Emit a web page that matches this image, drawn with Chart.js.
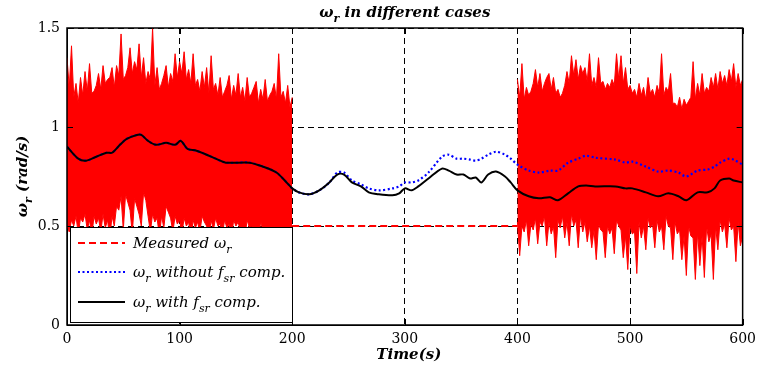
<!DOCTYPE html>
<html>
<head>
<meta charset="utf-8">
<script src="https://cdn.jsdelivr.net/npm/chart.js@4.4.0/dist/chart.umd.min.js"></script>
<style>
html, body { margin: 0; padding: 0; background: #fff; }
canvas { display: block; }
</style>
</head>
<body>
<canvas id="chartWr" width="762" height="374"></canvas>
<script>
// Axis ticks
const timeTicks = [0, 100, 200, 300, 400, 500, 600];
const speedTicks = [0, 0.5, 1, 1.5];

// Measured speed, noisy parts: upper / lower envelope, one value every 2 s
const measuredStep = 2;
const measuredStartA = 0;
const measuredHighA = [1.35, 1.20, 1.41, 1.15, 1.22, 1.12, 1.25, 1.16, 1.28, 1.18, 1.32, 1.17, 1.18, 1.21, 1.27, 1.19,
    1.31, 1.22, 1.24, 1.25, 1.30, 1.20, 1.31, 1.26, 1.47, 1.24, 1.26, 1.30, 1.40, 1.27, 1.33, 1.29, 1.42, 1.25,
    1.35, 1.22, 1.28, 1.24, 1.50, 1.21, 1.30, 1.19, 1.22, 1.26, 1.31, 1.20, 1.27, 1.23, 1.37, 1.25, 1.33, 1.27,
    1.38, 1.24, 1.29, 1.22, 1.37, 1.21, 1.24, 1.18, 1.28, 1.20, 1.30, 1.17, 1.36, 1.19, 1.22, 1.16, 1.25, 1.15,
    1.18, 1.21, 1.26, 1.14, 1.21, 1.16, 1.27, 1.15, 1.20, 1.13, 1.25, 1.15, 1.17, 1.20, 1.23, 1.12, 1.19, 1.14,
    1.24, 1.13, 1.16, 1.18, 1.22, 1.14, 1.37, 1.15, 1.18, 1.12, 1.21, 1.10, 1.15];
const measuredLowA = [0.50, 0.47, 0.53, 0.50, 0.55, 0.46, 0.54, 0.52, 0.56, 0.48, 0.53, 0.45, 0.55, 0.51, 0.54, 0.47,
    0.56, 0.49, 0.53, 0.44, 0.55, 0.50, 0.60, 0.58, 0.65, 0.48, 0.66, 0.62, 0.58, 0.46, 0.64, 0.60, 0.56, 0.50,
    0.67, 0.63, 0.55, 0.47, 0.56, 0.52, 0.54, 0.45, 0.55, 0.49, 0.60, 0.57, 0.54, 0.47, 0.55, 0.51, 0.53, 0.46,
    0.54, 0.50, 0.52, 0.44, 0.53, 0.49, 0.52, 0.47, 0.55, 0.52, 0.50, 0.45, 0.53, 0.48, 0.54, 0.50, 0.51, 0.46,
    0.53, 0.49, 0.51, 0.44, 0.53, 0.50, 0.52, 0.47, 0.50, 0.45, 0.53, 0.49, 0.50, 0.46, 0.48, 0.43, 0.52, 0.48,
    0.49, 0.45, 0.47, 0.42, 0.50, 0.47, 0.46, 0.44, 0.45, 0.40, 0.44, 0.38, 0.40];
const measuredStartB = 400;
const measuredHighB = [1.24, 1.15, 1.32, 1.14, 1.20, 1.16, 1.18, 1.22, 1.29, 1.20, 1.27, 1.18, 1.22, 1.25, 1.27, 1.19,
    1.25, 1.17, 1.19, 1.15, 1.17, 1.21, 1.28, 1.22, 1.36, 1.26, 1.34, 1.24, 1.31, 1.27, 1.30, 1.23, 1.37, 1.21,
    1.25, 1.20, 1.35, 1.22, 1.23, 1.19, 1.22, 1.20, 1.24, 1.21, 1.37, 1.24, 1.36, 1.22, 1.30, 1.19, 1.21, 1.17,
    1.19, 1.15, 1.22, 1.16, 1.20, 1.14, 1.25, 1.17, 1.19, 1.15, 1.21, 1.17, 1.37, 1.16, 1.20, 1.18, 1.27, 1.12,
    1.12, 1.10, 1.15, 1.09, 1.14, 1.11, 1.13, 1.15, 1.33, 1.14, 1.22, 1.16, 1.27, 1.17, 1.20, 1.18, 1.25, 1.20,
    1.27, 1.19, 1.28, 1.22, 1.26, 1.21, 1.29, 1.23, 1.32, 1.20, 1.27, 1.21, 1.24];
const measuredLowB = [0.52, 0.35, 0.50, 0.47, 0.53, 0.40, 0.51, 0.48, 0.54, 0.41, 0.52, 0.50, 0.55, 0.40, 0.52, 0.46,
    0.50, 0.34, 0.53, 0.49, 0.55, 0.44, 0.52, 0.40, 0.56, 0.50, 0.53, 0.39, 0.55, 0.47, 0.52, 0.42, 0.50, 0.39,
    0.48, 0.33, 0.51, 0.48, 0.47, 0.34, 0.50, 0.46, 0.49, 0.36, 0.53, 0.50, 0.48, 0.34, 0.45, 0.28, 0.50, 0.46,
    0.47, 0.26, 0.52, 0.44, 0.50, 0.38, 0.54, 0.49, 0.51, 0.39, 0.53, 0.47, 0.50, 0.38, 0.55, 0.50, 0.49, 0.33,
    0.52, 0.46, 0.48, 0.33, 0.45, 0.25, 0.50, 0.45, 0.44, 0.23, 0.47, 0.30, 0.45, 0.24, 0.50, 0.42, 0.46, 0.23,
    0.50, 0.38, 0.53, 0.47, 0.51, 0.39, 0.54, 0.48, 0.50, 0.32, 0.52, 0.40, 0.45];
// Measured speed between 200 s and 400 s
const measuredFlatTime = [200, 400];
const measuredFlat = [0.5, 0.5];

// Estimated speed with and without f_sr compensation
const estTime = [0, 10, 17, 26, 35, 40, 47, 53, 62, 66, 72, 79, 88, 96, 101, 107, 115, 124, 132, 141,
    162, 174, 186, 195, 200, 206, 215, 224, 233, 240, 246, 253, 261, 268, 277, 289, 295, 300, 306, 312,
    321, 333, 339, 346, 352, 358, 363, 368, 374, 381, 389, 394, 400, 410, 419, 429, 436, 445, 454, 461,
    469, 487, 496, 502, 514, 525, 534, 543, 550, 560, 569, 575, 580, 588, 592, 600];
const withComp = [0.90, 0.84, 0.83, 0.85, 0.87, 0.87, 0.91, 0.94, 0.96, 0.96, 0.93, 0.91, 0.92, 0.91, 0.93, 0.89, 0.88, 0.86, 0.84, 0.82,
    0.82, 0.80, 0.77, 0.72, 0.69, 0.67, 0.66, 0.68, 0.72, 0.76, 0.76, 0.72, 0.70, 0.67, 0.66, 0.655, 0.665, 0.69, 0.68, 0.70,
    0.74, 0.79, 0.78, 0.76, 0.76, 0.74, 0.745, 0.72, 0.76, 0.775, 0.75, 0.72, 0.68, 0.65, 0.64, 0.645, 0.63, 0.665, 0.70, 0.705,
    0.70, 0.70, 0.69, 0.69, 0.67, 0.65, 0.665, 0.65, 0.63, 0.67, 0.67, 0.69, 0.73, 0.74, 0.73, 0.72];
const withoutComp = [0.90, 0.84, 0.83, 0.85, 0.87, 0.87, 0.91, 0.94, 0.96, 0.96, 0.93, 0.91, 0.92, 0.91, 0.93, 0.89, 0.88, 0.86, 0.84, 0.82,
    0.82, 0.80, 0.77, 0.72, 0.69, 0.67, 0.66, 0.68, 0.72, 0.77, 0.77, 0.73, 0.71, 0.69, 0.68, 0.69, 0.70, 0.72, 0.72, 0.73,
    0.77, 0.85, 0.86, 0.84, 0.84, 0.835, 0.83, 0.84, 0.86, 0.875, 0.86, 0.84, 0.81, 0.78, 0.77, 0.78, 0.78, 0.82, 0.84, 0.855,
    0.845, 0.835, 0.82, 0.825, 0.80, 0.775, 0.78, 0.77, 0.75, 0.78, 0.785, 0.80, 0.82, 0.84, 0.835, 0.81];

const SERIF = '"DejaVu Serif", serif';
const RED = "#ff0000";

function toPoints(xs, ys) {
    return ys.map((y, i) => ({ x: xs[i], y: y }));
}
function stepPoints(start, step, ys) {
    return ys.map((y, i) => ({ x: start + i * step, y: y }));
}

// text with subscripts: parts = [[text, isSub], ...]
function richWidth(ctx, parts, size, style) {
    let w = 0;
    parts.forEach(([t, sub]) => {
        ctx.font = style + " " + (sub ? Math.round(size * 0.7) : size) + "px " + SERIF;
        w += ctx.measureText(t).width;
    });
    return w;
}
function drawRich(ctx, parts, x, y, size, style) {
    let cx = x;
    ctx.textAlign = "left";
    ctx.textBaseline = "alphabetic";
    parts.forEach(([t, sub]) => {
        ctx.font = style + " " + (sub ? Math.round(size * 0.7) : size) + "px " + SERIF;
        ctx.fillText(t, cx, sub ? y + size * 0.3 : y);
        cx += ctx.measureText(t).width;
    });
}

const decorations = {
    id: "decorations",
    afterDraw(chart) {
        const ctx = chart.ctx;
        const a = chart.chartArea;
        const xs = chart.scales.x, ys = chart.scales.y;
        ctx.save();
        ctx.fillStyle = "#000";
        ctx.strokeStyle = "#000";

        // inner tick marks
        ctx.lineWidth = 1;
        ctx.beginPath();
        timeTicks.forEach(t => {
            const px = Math.round(xs.getPixelForValue(t)) + 0.5;
            ctx.moveTo(px, a.bottom); ctx.lineTo(px, a.bottom - 6);
            ctx.moveTo(px, a.top); ctx.lineTo(px, a.top + 6);
        });
        speedTicks.forEach(v => {
            const py = Math.round(ys.getPixelForValue(v)) + 0.5;
            ctx.moveTo(a.left, py); ctx.lineTo(a.left + 6, py);
            ctx.moveTo(a.right, py); ctx.lineTo(a.right - 6, py);
        });
        ctx.stroke();

        // frame
        ctx.lineWidth = 1.5;
        ctx.strokeRect(a.left, a.top, a.right - a.left, a.bottom - a.top);

        // legend
        const lx = 70, ly = 227, lw = 222, lh = 95;
        ctx.fillStyle = "#fff";
        ctx.fillRect(lx, ly, lw, lh);
        ctx.lineWidth = 1;
        ctx.strokeStyle = "#000";
        ctx.strokeRect(lx + 0.5, ly + 0.5, lw, lh);
        const rows = [
            { y: 243, color: RED, dash: [7, 4], width: 2, parts: [["Measured ω", false], ["r", true]] },
            { y: 272, color: "#0000ff", dash: [2, 2.5], width: 2, parts: [["ω", false], ["r", true], [" without ", false], ["f", false], ["sr", true], [" comp.", false]] },
            { y: 302, color: "#000000", dash: [], width: 2, parts: [["ω", false], ["r", true], [" with ", false], ["f", false], ["sr", true], [" comp.", false]] }
        ];
        rows.forEach(r => {
            ctx.strokeStyle = r.color;
            ctx.lineWidth = r.width;
            ctx.setLineDash(r.dash);
            ctx.beginPath();
            ctx.moveTo(78, r.y); ctx.lineTo(125, r.y);
            ctx.stroke();
            ctx.setLineDash([]);
            ctx.fillStyle = "#000";
            drawRich(ctx, r.parts, 133, r.y + 5, 15, "italic");
        });

        // title
        const titleParts = [["ω", false], ["r", true], [" in different cases", false]];
        const tw = richWidth(ctx, titleParts, 15, "italic bold");
        ctx.fillStyle = "#000";
        drawRich(ctx, titleParts, (a.left + a.right) / 2 - tw / 2, 17, 15, "italic bold");

        // x axis title
        ctx.font = "italic bold 15px " + SERIF;
        ctx.textAlign = "center";
        ctx.fillText("Time(s)", (a.left + a.right) / 2 + 4, 359);

        // y axis title
        const yParts = [["ω", false], ["r", true], [" (rad/s)", false]];
        const yw = richWidth(ctx, yParts, 15, "italic bold");
        ctx.translate(27, (a.top + a.bottom) / 2);
        ctx.rotate(-Math.PI / 2);
        drawRich(ctx, yParts, -yw / 2, 0, 15, "italic bold");
        ctx.restore();
    }
};

function bandEdge(label, start, values, fill) {
    return {
        label: label,
        data: stepPoints(start, measuredStep, values),
        borderColor: RED,
        backgroundColor: RED,
        borderWidth: 1,
        pointRadius: 0,
        fill: fill,
        order: 3
    };
}

new Chart(document.getElementById("chartWr").getContext("2d"), {
    type: "line",
    data: {
        datasets: [
            {
                label: "wr with fsr comp.",
                data: toPoints(estTime, withComp),
                borderColor: "#000000",
                borderWidth: 2,
                pointRadius: 0,
                tension: 0.3,
                order: 0
            },
            {
                label: "wr without fsr comp.",
                data: toPoints(estTime, withoutComp),
                borderColor: "#0000ff",
                borderWidth: 2.2,
                borderDash: [2, 2.5],
                pointRadius: 0,
                tension: 0.3,
                order: 1
            },
            {
                label: "Measured wr",
                data: toPoints(measuredFlatTime, measuredFlat),
                borderColor: RED,
                borderWidth: 2,
                borderDash: [7, 4],
                pointRadius: 0,
                order: 2
            },
            bandEdge("Measured wr high A", measuredStartA, measuredHighA, "+1"),
            bandEdge("Measured wr low A", measuredStartA, measuredLowA, false),
            bandEdge("Measured wr high B", measuredStartB, measuredHighB, "+1"),
            bandEdge("Measured wr low B", measuredStartB, measuredLowB, false)
        ]
    },
    options: {
        responsive: false,
        animation: false,
        layout: { padding: { left: 0, right: 17, top: 28, bottom: 0 } },
        plugins: {
            legend: { display: false },
            title: { display: false },
            tooltip: { enabled: false }
        },
        scales: {
            x: {
                type: "linear",
                min: 0,
                max: 600,
                afterFit: s => { s.height = 49; },
                afterBuildTicks: s => { s.ticks = timeTicks.map(v => ({ value: v })); },
                ticks: {
                    color: "#000",
                    padding: 6,
                    maxRotation: 0,
                    font: { family: SERIF, size: 14 }
                },
                grid: {
                    color: "#000",
                    lineWidth: 1,
                    drawTicks: false,
                    tickLength: 0
                },
                border: { display: true, color: "#000", dash: [6, 4], width: 1 }
            },
            y: {
                min: 0,
                max: 1.5,
                afterFit: s => { s.width = 67; },
                afterBuildTicks: s => { s.ticks = speedTicks.map(v => ({ value: v })); },
                ticks: {
                    color: "#000",
                    padding: 7,
                    font: { family: SERIF, size: 14 },
                    callback: v => String(v)
                },
                grid: {
                    color: "#000",
                    lineWidth: 1,
                    drawTicks: false,
                    tickLength: 0
                },
                border: { display: true, color: "#000", dash: [6, 4], width: 1 }
            }
        }
    },
    plugins: [decorations]
});
</script>
</body>
</html>
